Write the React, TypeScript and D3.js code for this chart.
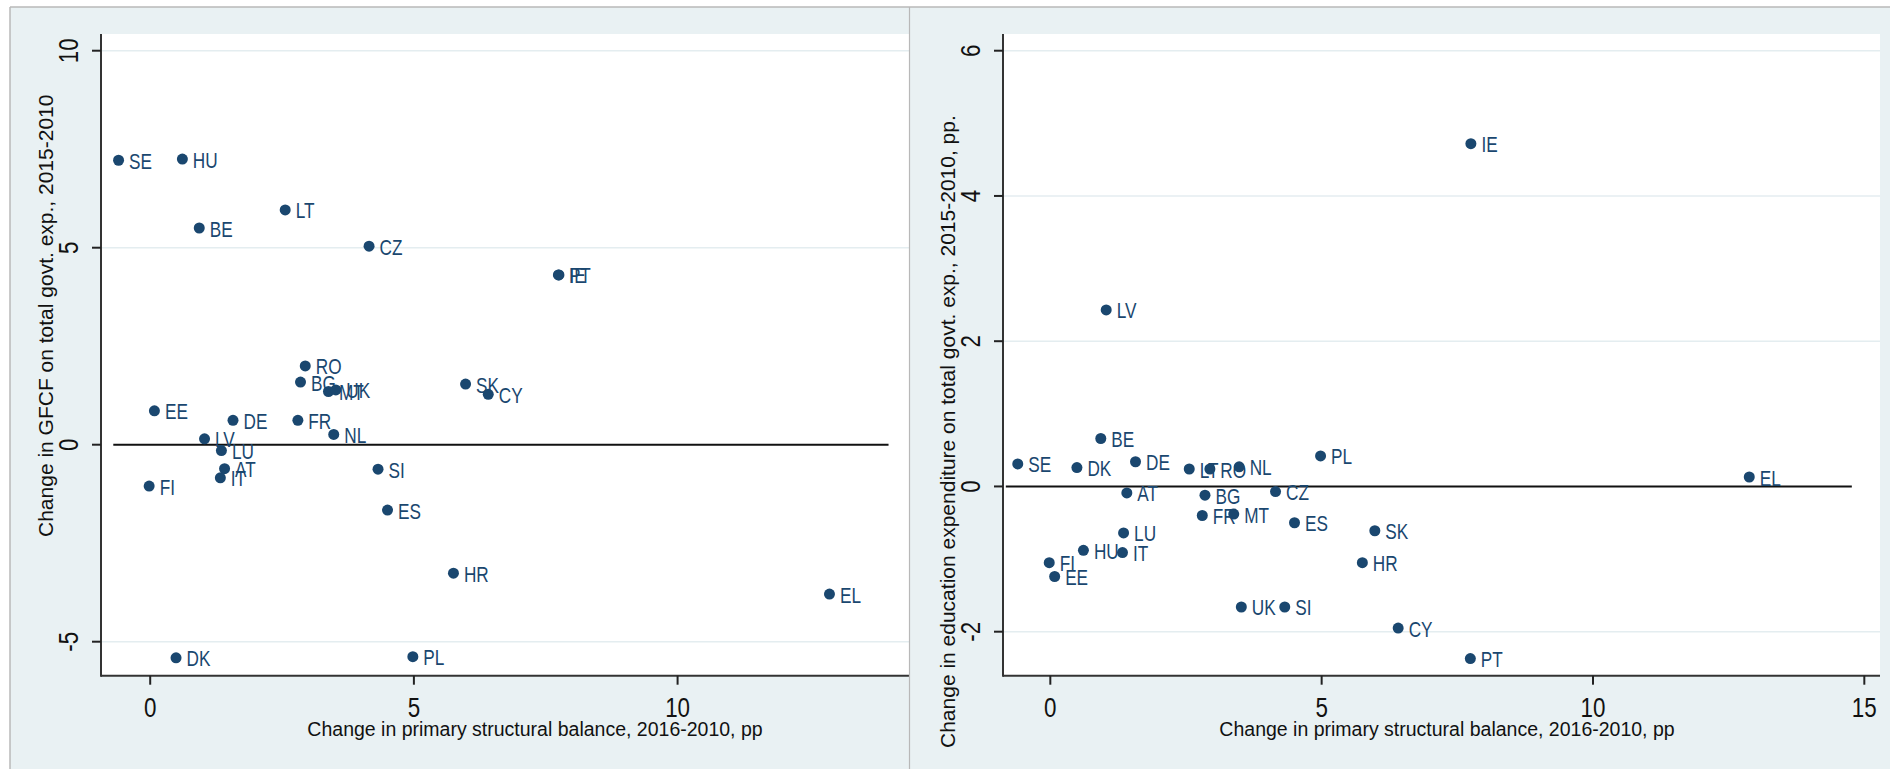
import React from "react";
import * as d3 from "d3";

// ---------- data ----------
const countries = ["SE","HU","LT","BE","CZ","IE","PT","RO","BG","MT","UK","SK","CY","EE","DE","FR","NL","LV","LU","AT","IT","FI","SI","ES","HR","EL","DK","PL"];
const balanceChange = [-0.60,0.61,2.56,0.93,4.15,7.75,7.74,2.94,2.85,3.38,3.52,5.98,6.41,0.08,1.57,2.80,3.48,1.03,1.35,1.41,1.33,-0.02,4.32,4.50,5.75,12.88,0.49,4.98];
const gfcfChange = [7.22,7.25,5.96,5.50,5.04,4.31,4.31,2.00,1.59,1.35,1.39,1.54,1.28,0.86,0.62,0.62,0.26,0.15,-0.15,-0.61,-0.84,-1.05,-0.62,-1.66,-3.26,-3.79,-5.41,-5.38];
const eduChange = [0.31,-0.88,0.24,0.66,-0.07,4.72,-2.37,0.24,-0.12,-0.38,-1.66,-0.61,-1.95,-1.24,0.34,-0.40,0.27,2.43,-0.64,-0.09,-0.91,-1.05,-1.66,-0.50,-1.05,0.13,0.26,0.42];

const leftXTicks = [0, 5, 10];
const leftYTicks = [-5, 0, 5, 10];
const rightXTicks = [0, 5, 10, 15];
const rightYTicks = [-2, 0, 2, 4, 6];

const xTitle = "Change in primary structural balance, 2016-2010, pp";
const leftYTitle = "Change in GFCF on total govt. exp., 2015-2010";
const rightYTitle = "Change in education expenditure on total govt. exp., 2015-2010, pp.";

// ---------- style ----------
const FONT = "'Liberation Sans', Arial, sans-serif";
const NAVY = "#1a476f";
const BG = "#e9f1f3";
const GRID = "#e4edf0";
const BORDER = "#b8b8b8";

type PanelProps = {
  panelX0: number; panelX1: number;
  plotX0: number; plotX1: number; plotY0: number; plotY1: number;
  xDomain: [number, number]; yDomain: [number, number];
  xTicks: number[]; yTicks: number[];
  ys: number[];
  zeroExtent: [number, number];
  yTitle: string; yTitleBottom: number; xTitleCenter: number;
};

function Panel(p: PanelProps) {
  const x = d3.scaleLinear().domain(p.xDomain).range([p.plotX0, p.plotX1]);
  const y = d3.scaleLinear().domain(p.yDomain).range([p.plotY1, p.plotY0]);
  const tickLen = 9;
  const yTickBase = p.plotX0 - 23;
  const yTitleBase = p.plotX0 - 48;
  return (
    <g>
      <rect x={p.panelX0} y={7} width={p.panelX1 - p.panelX0} height={769 - 7} fill={BG} />
      <rect x={p.plotX0} y={p.plotY0} width={p.plotX1 - p.plotX0} height={p.plotY1 - p.plotY0} fill="#fff" />
      {p.yTicks.filter(t => t !== 0).map(t => (
        <line key={"g" + t} x1={p.plotX0} x2={p.plotX1} y1={y(t)} y2={y(t)} stroke={GRID} strokeWidth={1.6} />
      ))}
      <line x1={x(p.zeroExtent[0])} x2={x(p.zeroExtent[1])} y1={y(0)} y2={y(0)} stroke="#111" strokeWidth={2} />
      {/* axes */}
      <line x1={p.plotX0} x2={p.plotX0} y1={p.plotY0} y2={p.plotY1 + 1} stroke="#333" strokeWidth={2} />
      <line x1={p.plotX0} x2={p.plotX1} y1={p.plotY1} y2={p.plotY1} stroke="#333" strokeWidth={2} />
      {p.yTicks.map(t => (
        <g key={"yt" + t}>
          <line x1={p.plotX0 - tickLen} x2={p.plotX0} y1={y(t)} y2={y(t)} stroke="#222" strokeWidth={2} />
          <text transform={`translate(${yTickBase},${y(t)}) rotate(-90) scale(0.8,1)`} textAnchor="middle"
            fontFamily={FONT} fontSize={28} fill="#111">{String(t)}</text>
        </g>
      ))}
      {p.xTicks.map(t => (
        <g key={"xt" + t}>
          <line x1={x(t)} x2={x(t)} y1={p.plotY1} y2={p.plotY1 + tickLen} stroke="#222" strokeWidth={2} />
          <text transform={`translate(${x(t)},717) scale(0.8,1)`} textAnchor="middle"
            fontFamily={FONT} fontSize={28} fill="#111">{String(t)}</text>
        </g>
      ))}
      <text x={p.xTitleCenter} y={736} textAnchor="middle" fontFamily={FONT} fontSize={19.5} fill="#111">{xTitle}</text>
      <text transform={`translate(${yTitleBase},${p.yTitleBottom}) rotate(-90)`} textAnchor="start"
        fontFamily={FONT} fontSize={21} fill="#111">{p.yTitle}</text>
      {/* points */}
      {countries.map((c, i) => {
        const cx = x(balanceChange[i]);
        const cy = y(p.ys[i]);
        return (
          <g key={c}>
            <circle cx={cx} cy={cy} r={5.5} fill={NAVY} />
            <text transform={`translate(${cx + 10.5},${cy + 8.5}) scale(0.8,1)`} fontFamily={FONT} fontSize={21.5} fill={NAVY}>{c}</text>
          </g>
        );
      })}
    </g>
  );
}

export default function App() {
  return (
    <svg width={1890} height={769} style={{ position: "absolute", left: 0, top: 0, background: "#fff" }}>
      <Panel panelX0={10} panelX1={909.5} plotX0={101} plotX1={909} plotY0={34} plotY1={675.7}
        xDomain={[-0.933, 14.388]} yDomain={[-5.863, 10.424]}
        xTicks={leftXTicks} yTicks={leftYTicks} ys={gfcfChange}
        zeroExtent={[-0.7, 14.0]} yTitle={leftYTitle} yTitleBottom={537} xTitleCenter={535} />
      <Panel panelX0={909.5} panelX1={1890} plotX0={1003} plotX1={1880} plotY0={34} plotY1={675.7}
        xDomain={[-0.872, 15.289]} yDomain={[-2.606, 6.23]}
        xTicks={rightXTicks} yTicks={rightYTicks} ys={eduChange}
        zeroExtent={[-0.82, 14.77]} yTitle={rightYTitle} yTitleBottom={748} xTitleCenter={1447} />
      <line x1={10} x2={1890} y1={7} y2={7} stroke={BORDER} strokeWidth={1.5} />
      <line x1={10} x2={10} y1={7} y2={769} stroke={BORDER} strokeWidth={1.5} />
      <line x1={909.5} x2={909.5} y1={7} y2={769} stroke={BORDER} strokeWidth={1.2} />
    </svg>
  );
}
